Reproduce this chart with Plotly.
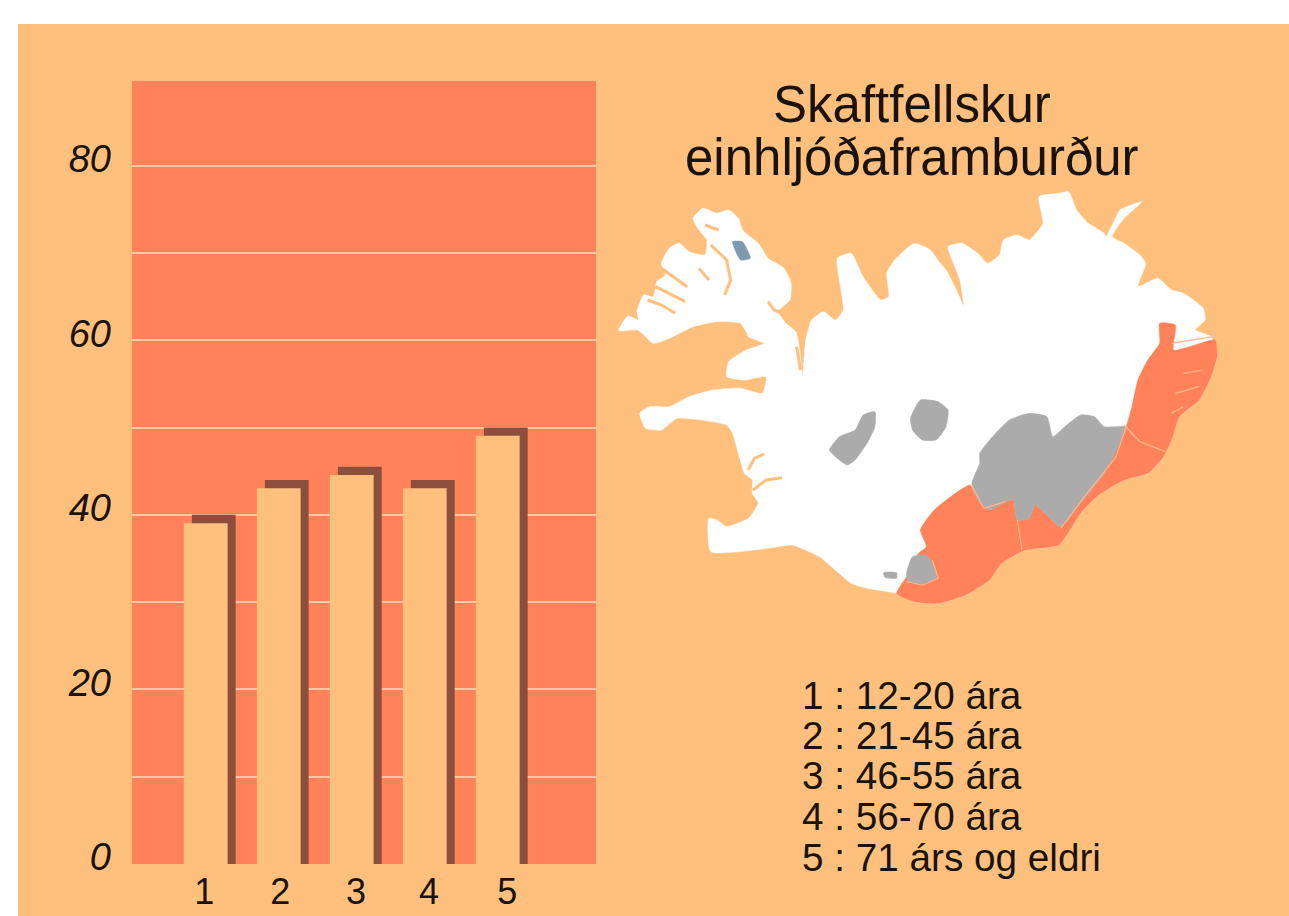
import plotly.graph_objects as go

W, H = 1289, 916
# ---------- data ----------
groups = [1, 2, 3, 4, 5]
values = [40, 44, 45.5, 44, 50]
y_ticks = [0, 20, 40, 60, 80]
y_minor = [10, 30, 50, 70]
title_lines = ["Skaftfellskur", "einhljóðaframburður"]
legend_lines = ["1 : 12-20 ára", "2 : 21-45 ára", "3 : 46-55 ára", "4 : 56-70 ára", "5 : 71 árs og eldri"]
x_label_positions = [0.99, 2.03, 3.07, 4.07, 5.14]

# ---------- map outlines (in the map's own coordinate frame) ----------
island = [(22,452),(45,408),(72,420),(68,395),(85,345),(110,350),(118,305),(140,285),(130,250),(150,205),(175,190),(200,215),(240,225),(245,180),(225,150),(210,115),(235,85),(270,100),(300,90),(325,115),(335,150),(375,190),(400,235),(440,265),(458,310),(455,360),(425,395),(445,430),(470,455),(480,510),(487,590),(495,480),(510,420),(540,395),(570,420),(590,390),(575,235),(610,220),(640,290),(685,360),(705,350),(700,280),(720,240),(770,190),(810,210),(835,250),(850,270),(880,340),(895,380),(885,300),(855,200),(890,190),(930,220),(955,250),(985,225),(995,180),(1030,165),(1060,180),(1095,130),(1085,50),(1135,40),(1160,35),(1180,90),(1210,130),(1250,160),(1255,170),(1290,90),(1345,65),(1300,115),(1270,170),(1300,190),(1340,225),(1355,250),(1335,320),(1385,295),(1420,330),(1450,340),(1500,385),(1505,420),(1480,450),(1520,470),(1535,530),(1520,590),(1490,660),(1440,710),(1420,780),(1400,830),(1360,880),(1300,900),(1230,950),(1190,1000),(1135,1095),(1050,1110),(990,1150),(960,1200),(900,1245),(830,1270),(770,1265),(725,1240),(650,1225),(610,1210),(570,1170),(530,1130),(460,1095),(400,1105),(255,1115),(250,1015),(270,1020),(295,1040),(350,1015),(375,970),(360,940),(360,900),(340,880),(310,760),(295,735),(170,715),(130,750),(90,745),(75,700),(100,680),(150,680),(200,650),(260,630),(330,625),(385,640),(395,590),(340,600),(295,590),(300,545),(345,510),(390,490),(350,470),(330,430),(270,425),(210,440),(150,475),(110,490),(70,450),(22,452)]
red_region = [(1390,430),(1430,435),(1425,510),(1480,495),(1530,480),(1535,530),(1520,590),(1490,660),(1440,710),(1420,780),(1400,830),(1360,880),(1300,900),(1230,950),(1190,1000),(1135,1095),(1050,1110),(990,1150),(960,1200),(900,1245),(830,1270),(770,1265),(725,1240),(750,1190),(780,1120),(800,1100),(785,1050),(820,990),(910,915),(930,960),(960,990),(1000,965),(1020,960),(1030,1020),(1060,1015),(1075,975),(1100,1000),(1140,1040),(1190,970),(1250,880),(1300,760),(1320,680),(1335,600),(1360,540),(1390,490),(1390,430)]
grey_regions = [
    [(935,820),(960,780),(1010,720),(1060,700),(1105,710),(1120,770),(1150,740),(1190,705),(1225,710),(1250,740),(1305,740),(1290,790),(1250,880),(1190,970),(1140,1040),(1100,1000),(1075,975),(1060,1015),(1030,1020),(1020,960),(1000,965),(960,990),(930,960),(915,910),(935,850),(935,820)],
    [(555,810),(580,770),(620,750),(640,705),(670,695),(670,740),(650,790),(620,840),(600,855),(570,830),(555,810)],
    [(760,715),(785,660),(830,665),(855,690),(850,740),(825,780),(790,780),(765,750),(760,715)],
    [(750,1180),(765,1130),(800,1125),(820,1160),(825,1195),(790,1210),(755,1205),(750,1180)],
    [(692,1178),(725,1178),(725,1195),(695,1192),(692,1178)],
]
glacier_blue = [(310,185),(335,185),(355,235),(330,240),(310,185)]
fjords = [
    [(130,265),(160,290),(195,320)],[(115,320),(150,340),(190,365)],[(95,360),(130,375),(165,400)],
    [(240,135),(275,150)],[(255,195),(295,240),(305,300),(290,345)],[(225,265),(250,300)],
    [(400,365),(415,390),(445,405)],[(350,870),(365,835),(390,822)],[(362,930),(395,900),(435,893)],
    [(472,500),(482,570)],[(330,440),(345,465)],
]
red_lines = [
    [(1300,735),(1340,785),(1405,815)],[(1030,1020),(1042,1110)],[(915,915),(945,985),(1000,965)],
    [(1450,580),(1500,570)],[(1430,640),(1490,620)],[(1420,700),(1450,680)],[(1420,490),(1525,470)],
    [(1305,740),(1280,830),(1200,950),(1140,1045)],[(750,1205),(790,1215),(830,1195),(815,1140)],
]

# ---------- styles ----------
ORANGE, RED, BROWN = "#FFC07E", "#FF825A", "#8C4E3D"
GRID, GREY, INK = "#FFC6A2", "#ABABAB", "#1A120C"
FONT = "Liberation Sans"
SHADOW_DEPTH = 0.95


def px_x(x):
    return x / W


def px_y(y):
    return 1 - y / H


fig = go.Figure()
fig.add_trace(go.Bar(x=groups, y=values, width=0.6, offset=-0.18, marker=dict(color=BROWN, line_width=0), xaxis="x", yaxis="y"))
fig.add_trace(go.Bar(x=groups, y=[v - SHADOW_DEPTH for v in values], width=0.6, offset=-0.29,
                     marker=dict(color=ORANGE, line_width=0), xaxis="x", yaxis="y"))


def poly(points, color):
    fig.add_trace(go.Scatter(x=[p[0] for p in points], y=[p[1] for p in points], mode="lines", fill="toself",
                             fillcolor=color, line=dict(color=color, width=0.5, shape="spline", smoothing=0.5),
                             xaxis="x2", yaxis="y2", hoverinfo="skip"))


def line(points, color, width):
    fig.add_trace(go.Scatter(x=[p[0] for p in points], y=[p[1] for p in points], mode="lines",
                             line=dict(color=color, width=width), xaxis="x2", yaxis="y2", hoverinfo="skip"))


poly(island, "#FFFFFF")
poly(red_region, RED)
for g in grey_regions:
    poly(g, GREY)
poly(glacier_blue, "#7F99AE")
for f in fjords:
    line(f, ORANGE, 3)
for r in red_lines:
    line(r, "#FFB58E", 1.2)

annotations = []
for text, y in zip(title_lines, [104, 157]):
    annotations.append(dict(text=text, x=px_x(912), y=px_y(y), xref="paper", yref="paper", showarrow=False,
                            xanchor="center", yanchor="middle", font=dict(family=FONT, size=51, color=INK)))
for text, y in zip(legend_lines, [695, 735, 775, 816, 857]):
    annotations.append(dict(text=text, x=px_x(800), y=px_y(y), xref="paper", yref="paper", showarrow=False,
                            xanchor="left", yanchor="middle", font=dict(family=FONT, size=38.7, color=INK)))

shapes = [dict(type="rect", xref="paper", yref="paper", x0=px_x(132), x1=px_x(596), y0=px_y(864), y1=px_y(81),
               fillcolor=RED, line_width=0, layer="below"),
          dict(type="rect", xref="paper", yref="paper", x0=0, x1=px_x(18), y0=0, y1=1, fillcolor="#FFFFFF", line_width=0, layer="above"),
          dict(type="rect", xref="paper", yref="paper", x0=0, x1=1, y0=px_y(24), y1=1, fillcolor="#FFFFFF", line_width=0, layer="above")]

fig.update_layout(
    width=W, height=H, margin=dict(l=0, r=0, t=0, b=0, pad=0), autosize=False,
    paper_bgcolor=ORANGE, plot_bgcolor=ORANGE, showlegend=False, barmode="overlay",
    shapes=shapes,
    annotations=annotations,
    xaxis=dict(domain=[px_x(132), px_x(596)], range=[0, 6.356], tickmode="array", tickvals=x_label_positions,
               ticktext=[str(g) for g in groups], showgrid=False, zeroline=False, ticks="", showline=False,
               automargin=False, tickfont=dict(family=FONT, size=36, color=INK), ticklabelstandoff=3),
    yaxis=dict(domain=[px_y(864), px_y(81)], range=[0, 89.7], tickmode="array", tickvals=y_ticks,
               ticktext=[str(v) for v in y_ticks], showgrid=True, gridcolor=GRID, gridwidth=2, zeroline=False,
               ticks="", showline=False, automargin=False,
               tickfont=dict(family=FONT + ", sans-serif", size=38, color=INK, style="italic"),
               ticklabelstandoff=20, ticklabelshift=-7,
               minor=dict(tickmode="array", tickvals=y_minor, showgrid=True, gridcolor=GRID, gridwidth=2, ticks="")),
    xaxis2=dict(domain=[px_x(610), px_x(1230)], range=[0, 1568], visible=False, anchor="y2", automargin=False),
    yaxis2=dict(domain=[px_y(620), px_y(180)], range=[1320, 0], visible=False, anchor="x2", automargin=False),
)
fig.write_html("out.html", default_width=W, default_height=H,
               config={"responsive": False, "displayModeBar": False},
               post_script="document.body.style.margin='0';document.body.style.overflow='hidden';")
